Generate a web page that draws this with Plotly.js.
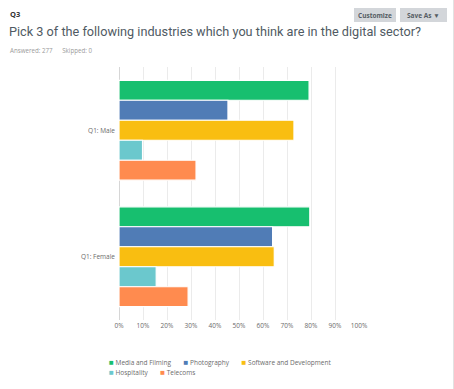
<!DOCTYPE html>
<html>
<head>
<meta charset="utf-8">
<script src="https://cdn.plot.ly/plotly-3.0.1.min.js"></script>
<style>
html,body{margin:0;padding:0;background:#fff;}
#chart{width:454px;height:389px;}
</style>
</head>
<body>
<div id="chart"></div>
<script>
// ---- data ----
var categories = ['Q1: Male', 'Q1: Female'];
var seriesNames = ['Media and Filming', 'Photography', 'Software and Development', 'Hospitality', 'Telecoms'];
var seriesColors = ['#17bf6f', '#507cb6', '#f9be11', '#6bc8cd', '#ff8b4f'];
var mediaValues = [79.2, 79.5];
var photographyValues = [45.4, 64.0];
var softwareValues = [72.9, 64.7];
var hospitalityValues = [9.8, 15.5];
var telecomsValues = [32.1, 28.8];
var tickValues = [0, 10, 20, 30, 40, 50, 60, 70, 80, 90, 100];
var tickLabels = ['0%', '10%', '20%', '30%', '40%', '50%', '60%', '70%', '80%', '90%', '100%'];

var allValues = [mediaValues, photographyValues, softwareValues, hospitalityValues, telecomsValues];

// ---- layout geometry ----
var W = 454, H = 389;
var M = {l: 119, r: 95, t: 67, b: 69};
var PW = W - M.l - M.r, PH = H - M.t - M.b;
function px(x) { return (x - M.l) / PW; }
function py(y) { return (H - M.b - y) / PH; }

var traces = seriesNames.map(function (name, i) {
  return {
    type: 'bar',
    orientation: 'h',
    name: name,
    y: categories,
    x: allValues[i],
    marker: {color: seriesColors[i], line: {color: '#ffffff', width: 1.2}},
    hoverinfo: 'x+name'
  };
});

var font = '"Open Sans", "Noto Sans", sans-serif';
var titleFont = 'Roboto, "Open Sans", sans-serif';
var annotations = [
  {text: '<b>Q3</b>', x: px(8), y: py(14), xanchor: 'left', yanchor: 'middle',
   font: {size: 7.5, color: '#333333', family: font}},
  {text: 'Pick 3 of the following industries which you think are in the digital sector?',
   x: px(7), y: py(32), xanchor: 'left', yanchor: 'middle',
   font: {size: 12.7, color: '#505a63', family: titleFont}},
  {text: 'Answered: 277&nbsp;&nbsp;&nbsp;&nbsp;&nbsp;&nbsp;Skipped: 0', x: px(8), y: py(51), xanchor: 'left', yanchor: 'middle',
   font: {size: 6.2, color: '#9a9a9a', family: font}},
  {text: '<b>Customize</b>', x: px(375), y: py(15), xanchor: 'center', yanchor: 'middle',
   font: {size: 6.5, color: '#555c63', family: font}},
  {text: '<b>Save As ▼</b>', x: px(423), y: py(15), xanchor: 'center', yanchor: 'middle',
   font: {size: 6.5, color: '#555c63', family: font}}
];

// legend built from series names, two rows like the reference
function legendItem(i) {
  return '<span style="font-size:8px;color:' + seriesColors[i] + '">■</span>' +
         '<span style="font-size:6.5px"> ' + seriesNames[i] + '</span>';
}
var gap = '&nbsp;&nbsp;&nbsp;&nbsp;&nbsp;&nbsp;';
var legendRows = [[0, 1, 2], [3, 4]];
var legendText = legendRows.map(function (row) {
  return row.map(legendItem).join(gap);
}).join('<br>');
annotations.push({
  text: legendText, x: px(107), y: py(366), xanchor: 'left', yanchor: 'middle', align: 'left',
  font: {size: 8, color: '#6b6b6b', family: font}
});

var shapes = [
  {type: 'rect', xref: 'paper', yref: 'paper', x0: px(354), x1: px(396), y0: py(8), y1: py(22),
   fillcolor: '#d3d6da', line: {width: 0}, layer: 'below'},
  {type: 'rect', xref: 'paper', yref: 'paper', x0: px(400), x1: px(447), y0: py(8), y1: py(22),
   fillcolor: '#d3d6da', line: {width: 0}, layer: 'below'},
  {type: 'line', xref: 'paper', yref: 'paper', x0: px(453.5), x1: px(453.5), y0: py(0), y1: py(389),
   line: {color: '#e2e2e2', width: 1}}
];

annotations.forEach(function (a) { a.xref = 'paper'; a.yref = 'paper'; a.showarrow = false; });

var layout = {
  width: W, height: H,
  margin: M,
  paper_bgcolor: '#ffffff',
  plot_bgcolor: '#ffffff',
  barmode: 'group',
  bargap: 0.21,
  bargroupgap: 0,
  showlegend: false,
  font: {family: font, color: '#666666'},
  xaxis: {
    range: [0, 100],
    tickvals: tickValues,
    ticktext: tickLabels,
    tickfont: {size: 6.5, color: '#6b6b6b'},
    showgrid: true,
    gridcolor: '#ebebeb',
    gridwidth: 1,
    zeroline: true,
    zerolinecolor: '#d6d6d6',
    ticks: '',
    fixedrange: true
  },
  yaxis: {
    autorange: 'reversed',
    tickfont: {size: 6.5, color: '#6b6b6b'},
    ticks: '',
    ticklabelstandoff: 3,
    showgrid: false,
    zeroline: false,
    fixedrange: true
  },
  annotations: annotations,
  shapes: shapes
};

Plotly.newPlot('chart', traces, layout, {displayModeBar: false, staticPlot: true});
</script>
</body>
</html>
